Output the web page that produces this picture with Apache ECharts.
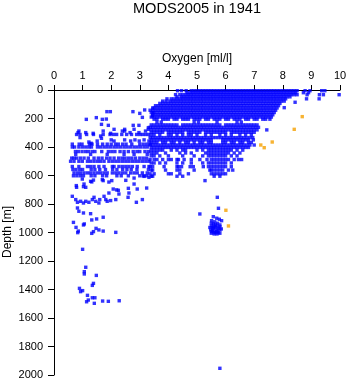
<!DOCTYPE html>
<html>
<head>
<meta charset="utf-8">
<script src="https://cdn.jsdelivr.net/npm/echarts@6/dist/echarts.min.js"></script>
<style>
html,body{margin:0;padding:0;background:#fff}
#chart{width:348px;height:384px}
</style>
</head>
<body>
<div id="chart"></div>
<script>
// Oxygen profiles, 1941: each row is [depth (m), [oxygen values (ml/l)]]
const surfaceRows = [
  [5,[4.32,4.46,4.62,4.8,4.9,5,5.1,5.2,5.3,5.4,5.5,5.6,5.7,5.8,5.9,6,6.1,6.2,6.3,6.4,6.5,6.6,6.7,6.8,6.9,7,7.1,7.2,7.3,7.4,7.5,7.6,7.7,7.8,7.9,8,8.1,8.2,8.3,8.4,8.5,8.78,8.95,9.36,9.47]],
  [19,[4.65,4.75,4.85,4.95,5.05,5.15,5.25,5.35,5.45,5.55,5.65,5.75,5.85,5.95,6.05,6.15,6.25,6.35,6.45,6.55,6.65,6.75,6.85,6.95,7.05,7.15,7.25,7.35,7.45,7.55,7.65,7.75,7.85,7.95,8.05,8.15,8.25,8.35,8.45,8.72,8.9]],
  [33,[4.25,4.4,4.5,4.6,4.7,4.8,4.9,5,5.1,5.2,5.3,5.4,5.5,5.6,5.7,5.8,5.9,6,6.1,6.2,6.3,6.4,6.5,6.6,6.7,6.8,6.9,7,7.1,7.2,7.3,7.4,7.5,7.6,7.7,7.8,7.9,8,8.1,8.2,8.3,8.4,8.5,8.85,9.28,9.42,9.97]],
  [48,[4.3,4.45,4.55,4.65,4.75,4.85,4.95,5.05,5.15,5.25,5.35,5.45,5.55,5.65,5.75,5.85,5.95,6.05,6.15,6.25,6.35,6.45,6.55,6.65,6.75,6.85,6.95,7.05,7.15,7.25,7.35,7.45,7.55,7.65,7.75,7.85,7.95,8.05,8.15,8.25]],
  [62,[3.95,4.1,4.2,4.3,4.4,4.5,4.6,4.7,4.8,4.9,5,5.1,5.2,5.3,5.4,5.5,5.6,5.7,5.8,5.9,6,6.1,6.2,6.3,6.4,6.5,6.6,6.7,6.8,6.9,7,7.1,7.2,7.3,7.4,7.5,7.6,7.7,7.8,7.9,8,8.1,8.83,9.27]],
  [78,[3.8,3.92,4.05,4.15,4.25,4.35,4.45,4.55,4.65,4.75,4.85,4.95,5.05,5.15,5.25,5.35,5.45,5.55,5.65,5.75,5.85,5.95,6.05,6.15,6.25,6.35,6.45,6.55,6.65,6.75,6.85,6.95,7.05,7.15,7.25,7.35,7.45,7.55,7.65,7.75,7.85,7.95,8.05]],
  [86,[8.43]],
  [94,[3.7,3.8,3.9,4,4.1,4.2,4.3,4.4,4.5,4.6,4.7,4.8,4.9,5,5.1,5.2,5.3,5.4,5.5,5.6,5.7,5.8,5.9,6,6.1,6.2,6.3,6.4,6.5,6.6,6.7,6.8,6.9,7,7.1,7.2,7.3,7.4,7.5,7.6,7.7,7.8,7.9]],
  [110,[3.55,3.65,3.75,3.85,3.95,4.05,4.15,4.25,4.35,4.45,4.55,4.65,4.75,4.85,4.95,5.05,5.15,5.25,5.35,5.45,5.55,5.65,5.75,5.85,5.95,6.05,6.15,6.25,6.35,6.45,6.55,6.65,6.75,6.85,6.95,7.05,7.15,7.25,7.35,7.45,7.55,7.65,7.75,7.85]],
  [124,[8.05]],
  [126,[3.45,3.5,3.6,3.7,3.8,3.9,4,4.1,4.2,4.3,4.4,4.5,4.6,4.7,4.8,4.9,5,5.1,5.2,5.3,5.4,5.5,5.6,5.7,5.8,5.9,6,6.1,6.2,6.3,6.4,6.5,6.6,6.7,6.8,6.9,7,7.1,7.2,7.3,7.4,7.5,7.6,7.7,7.8]],
  [142,[3.36,3.45,3.55,3.65,3.75,3.85,3.95,4.05,4.15,4.25,4.35,4.45,4.55,4.65,4.75,4.85,4.95,5.05,5.15,5.25,5.35,5.45,5.55,5.65,5.75,5.85,5.95,6.05,6.15,6.25,6.35,6.45,6.55,6.65,6.75,6.85,6.95,7.05,7.15,7.25,7.35,7.45,7.55,7.65,7.75]],
  [158,[3.4,3.5,3.6,3.7,3.8,3.9,4,4.1,4.2,4.3,4.4,4.5,4.6,4.7,4.8,4.9,5,5.1,5.2,5.3,5.4,5.5,5.6,5.7,5.8,5.9,6,6.1,6.2,6.3,6.4,6.5,6.6,6.7,6.8,6.9,7,7.1,7.2,7.3,7.4,7.5,7.6,7.7]],
  [174,[3.45,3.55,3.65,3.75,3.85,3.95,4.05,4.15,4.25,4.35,4.45,4.55,4.65,4.75,4.85,4.95,5.05,5.15,5.25,5.35,5.45,5.55,5.65,5.75,5.85,5.95,6.05,6.15,6.25,6.35,6.45,6.55,6.65,6.75,6.85,6.95,7.05,7.15,7.25,7.35,7.45,7.55,7.65]],
  [190,[3.4,3.5,3.6,3.7,3.8,3.9,4,4.1,4.2,4.3,4.4,4.5,4.6,4.7,4.8,4.9,5,5.1,5.2,5.3,5.4,5.5,5.6,5.7,5.8,5.9,6,6.1,6.2,6.3,6.4,6.5,6.6,6.7,6.8,6.9,7,7.1,7.2,7.3,7.4,7.5,7.6]],
  [205,[3.5,3.6,3.8,3.9,4,4.2,4.3,4.5,4.6,4.7,4.9,5,5.1,5.3,5.4,5.6,5.7,5.8,6,6.1,6.3,6.4,6.5,6.7,6.8,7,7.1,7.3,7.4,7.55]]
];

const intermediateRows = [
  [225,[3.6,3.75,4.9,5.05,5.7,6.4,6.55]],
  [245,[3.4,3.5,3.6,3.7,3.8,3.9,4,4.1,4.2,4.3,4.5,4.6,4.7,4.8,4.9,5,5.1,5.2,5.3,5.4,5.5,5.6,5.7,5.8,6,6.1,6.2,6.3,6.4,6.5,6.6,6.7,6.8,6.9,7,7.1]],
  [262,[3.36,3.45,3.55,3.65,3.75,3.85,3.95,4.05,4.15,4.25,4.35,4.45,4.55,4.65,4.75,4.85,4.95,5.05,5.15,5.25,5.35,5.45,5.55,5.65,5.75,5.85,5.95,6.05,6.15,6.25,6.35,6.45,6.55,6.65,6.75,6.85,6.95,7.05,7.15]],
  [280,[3.4,3.5,3.6,3.7,3.8,3.9,4,4.1,4.2,4.3,4.4,4.5,4.6,4.7,4.8,4.9,5,5.1,5.2,5.3,5.4,5.5,5.6,5.7,5.8,5.9,6,6.1,6.2,6.3,6.4,6.5,6.6,6.7,6.8,6.9,7,7.1,7.44]],
  [297,[3.4,3.5,3.6,3.7,3.8,4,4.1,4.2,4.3,4.4,4.5,4.7,4.8,4.9,5,5.1,5.3,5.4,5.5,5.6,5.7,5.8,5.9,6,6.2,6.3,6.4,6.5,6.6,6.7,6.8,6.9,7]],
  [315,[3.4,3.5,3.7,4,4.1,4.3,4.5,4.7,4.8,5,5.3,5.5,5.8,6,6.2,6.5,6.7,6.9]],
  [334,[3.36,3.45,3.55,3.65,3.75,3.85,3.95,4.05,4.15,4.25,4.35,4.45,4.55,4.65,4.75,4.85,4.95,5.05,5.15,5.25,5.35,5.45,5.55,5.65,5.75,5.85,5.95,6.05,6.15,6.25,6.35,6.45,6.55,6.65,6.75,6.85,6.95]],
  [350,[3.4,3.5,3.6,3.7,3.8,3.9,4,4.1,4.2,4.3,4.4,4.5,4.6,4.7,4.8,4.9,5,5.1,5.2,5.3,5.4,5.5,5.9,6,6.1,6.2,6.3,6.4,6.5,6.6,6.7,6.8,6.97]],
  [368,[3.4,3.5,3.6,3.8,3.9,4.1,4.2,4.4,4.6,4.7,4.9,5.1,5.2,5.4,5.5,5.9,6,6.2,6.3,6.5,6.6,6.8,6.9]],
  [386,[3.36,3.45,3.55,3.65,3.75,3.85,3.95,4.05,4.15,4.25,4.35,4.45,4.55,4.65,4.75,4.85,4.95,5.05,5.15,5.25,5.35,5.45,5.55,5.65,5.75,5.85,5.95,6.05,6.15,6.25,6.35,6.45,6.55,6.65,6.75,6.85,7]],
  [403,[3.4,3.5,3.6,3.7,3.8,3.9,4,4.1,4.2,4.3,4.4,4.5,4.6,4.7,4.8,4.9,5,5.1,5.2,5.3,5.4,5.5,5.6,5.7,5.8,5.9,6,6.1,6.2,6.3,6.4,6.5,6.6,6.7,6.8]],
  [422,[3.4,3.5,3.6,3.7,3.8,4.1,4.3,4.5,4.6,5,5.2,5.4,5.5,5.6,5.7,5.8,5.9,6,6.1,6.2,6.4,6.6]],
  [442,[3.4,3.5,3.6,3.9,4.4,4.6,4.8,5.3,5.4,5.5,5.6,5.7,5.8,5.9,6,6.1,6.3,6.5]],
  [462,[3.4,3.5,3.7,4,4.5,4.9,5.2,5.4,5.5,5.6,5.7,5.8,5.9,6,6.2,6.4]],
  [488,[3.36,3.5,3.6,3.8,4,4.1,4.3,4.35,4.55,4.8,5.1,5.35,5.5,5.6,5.7,5.8,5.9,6,6.1,6.3,6.45,6.56]],
  [512,[3.4,3.5,3.7,3.9,4.3,4.5,4.8,5.2,5.4,5.5,5.6,5.7,5.8,5.9,6,6.2]],
  [538,[3.36,3.45,3.85,4.3,4.35,4.46,4.76,4.87,5.22,5.4,5.5,5.6,5.7,5.8,5.9,6,6.2]],
  [562,[3.4,3.45,3.9,4.3,4.4,4.9,5.45,5.5,5.6,5.7,5.8,5.9,6.1,6.25]],
  [588,[3.36,3.5,4,4.1,4.4,4.7,5.5,5.6,5.7,5.8,5.9,6]],
  [605,[3.4,3.45,4.3,4.5,5.6,5.8]]
];

// Low-oxygen casts on the left side of the profile
const lowOxygenRows = [
  [140,[3.17]],[152,[1.85,1.97,2.76]],[159,[3.46]],[164,[3]],[182,[3.44]],[192,[3.09]],[194,[1.48]],
  [204,[1.83]],[206,[1.13,1.69]],[241,[1.66]],[248,[1.9,2.77,2.97]],[264,[3.3]],
  [276,[2.1,2.47,2.8,3.3]],
  [288,[0.87,1.72,2.39,2.47,3.2]],
  [299,[0.84,1.11,2.66,2.97]],
  [304,[1.37,1.98]],
  [312,[0.79,0.91,1.14,1.38,1.72,1.96,2.08,2.19,2.37,2.54,2.71,2.89,3,3.1,3.2,3.3]],
  [323,[1.63]],[334,[0.91]],[339,[1.66]],
  [350,[2,2.47,2.83,3.15]],
  [358,[1.51,2.1,2.68,2.98,3.32]],
  [365,[1.22]],[374,[1.3]],
  [380,[0.64,0.88,0.98,1.24,1.33,1.52,1.7,1.86,2,2.15,2.25,2.4,2.52,2.72,3,3.12,3.24,3.35]],
  [400,[0.64,0.72,0.87,0.99,1.11,1.22,1.31,1.52,1.63,1.75,1.86,1.98,2.1,2.21,2.33,2.45,2.56,2.68,2.8,2.91,3.03,3.15,3.26]],
  [432,[0.75,0.85,0.98,1.1,1.2,1.33,1.43,1.67,1.9,2.02,2.13,2.31,2.45,2.6,2.77,2.9,3,3.18,3.3]],
  [452,[0.76,1.28,1.86,2.45,2.8,3.26]],
  [478,[0.62,0.7,0.79,0.92,1.05,1.2,1.4,1.55,1.68,1.84,1.96,2.1,2.26,2.38,2.48,2.6,2.72,2.85,3,3.12,3.24]],
  [500,[0.58,0.7,0.87,0.99,1.17,1.28,1.4,1.52,1.63,1.75,1.92,2.04,2.16,2.27,2.39,2.51,2.62,2.74,2.86,2.97,3.09,3.21,3.32]],
  [537,[0.64,0.87,1.17,1.28,1.4,1.57,1.75,2.04,2.1,2.27,2.39,2.51,2.62,2.74,2.91,3.15,3.32]],
  [558,[0.66,0.77,0.9,1,1.3,1.43,1.6,1.8,2.05,2.2,2.4,2.55,2.7,2.9,3.3]],
  [582,[0.7,0.82,0.93,1.05,1.17,1.28,1.4,1.52,1.63,1.75,1.86,2.04,2.16,2.27,2.39,2.51,2.68,2.8,2.91,3.09,3.26]],
  [602,[0.68,0.8,0.92,1.03,1.3,1.43,1.7,1.84,2.2,2.35,2.6,3,3.12,3.24]]
];

// Deep, isolated observations as [oxygen, depth]
const deepPoints = [
  [0.99,625],[1.28,641],[1.69,629],[1.92,646],[2.51,634],[2.8,618],[3.15,606],[3.32,613],[1.32,645],[1.72,636],[2.02,636],[1.38,632],
  [0.79,683],[1.05,660],[1.11,683],[0.78,671],[1.03,678],
  [1.92,723],[2.07,695],[2.25,704],[2.27,730],[2.62,723],[2.8,660],[2.91,695],[3.24,688],[2.19,701],[2.6,690],
  [0.64,746],[0.76,769],[0.82,788],[0.93,781],[1.03,793],[1.11,781],[1.22,788],[1.34,769],[1.4,753],[1.46,781],[1.57,793],[1.6,769],[1.75,746],[1.81,769],[1.86,781],[1.98,776],[2.16,769],[2.59,753],[2.88,788],[3.09,769],
  [0.82,828],[0.87,851],[1.03,863],[1.28,868],[1.72,893],[1.49,905],
  [0.68,929],[0.77,964],[0.85,990],[0.83,1001],[1.03,947],[1.06,940],[1.32,912],[1.32,1006],[1.38,994],[1.47,971],[1.57,982],[1.72,990],[2.16,999],
  [1,1118],[1.11,1244],[1.06,1275],[1.06,1291],[1.48,1301],[1.38,1357],[1.34,1371],[0.89,1392],[0.93,1415],[1,1408],[1.17,1441],[1.14,1486],[1.2,1474],[1.34,1458],[1.43,1458],[1.41,1497],[1.7,1481],[1.9,1483],[2.28,1479],
  [5.28,636],[5.71,753],[5.75,830],[5.1,870],
  [5.57,889],[5.69,900],[5.78,907],[5.86,917],[5.51,917],[5.62,925],[5.5,935],[5.72,935],[5.57,940],[5.65,945],[5.8,947],
  [5.5,955],[5.6,955],[5.7,955],[5.8,960],[5.45,965],[5.55,965],[5.65,965],[5.75,970],[5.57,971],[5.85,975],
  [5.48,982],[5.69,982],[5.8,982],[5.55,985],[5.51,994],[5.6,995],[5.7,992],[5.63,1001],[5.74,1001],[5.5,1005],[5.8,1005],[5.6,1010],[5.7,1010],
  [5.8,1953]
];

// Flagged observations (orange)
const flaggedPoints = [[8.68,187],[8.4,276],[7.63,365],[7.23,386],[7.35,405],[6.01,844],[6.1,954]];

const oxygenTicks = [0,1,2,3,4,5,6,7,8,9,10];
const depthTicks = [0,200,400,600,800,1000,1200,1400,1600,1800,2000];

function rowsToPoints(rows) {
  const pts = [];
  rows.forEach(([depth, values]) => values.forEach(v => pts.push([v, depth])));
  return pts;
}

const bluePoints = rowsToPoints(surfaceRows)
  .concat(rowsToPoints(intermediateRows))
  .concat(rowsToPoints(lowOxygenRows))
  .concat(deepPoints);

const FONT = 'Liberation Sans, Arial, Helvetica, sans-serif';
const chart = echarts.init(document.getElementById('chart'), null, {renderer: 'canvas'});
chart.setOption({
  animation: false,
  backgroundColor: '#fff',
  graphic: [{
    type: 'text', x: 197, y: 1,
    style: {text: 'MODS2005 in 1941', fill: '#000', font: '14.6px ' + FONT, textAlign: 'center', textVerticalAlign: 'top'}
  }, {
    // vertical axis title, rotated along the depth axis
    type: 'text', x: 8, y: 232, rotation: Math.PI / 2,
    style: {text: 'Depth [m]', fill: '#000', font: '12px ' + FONT, textAlign: 'center', textVerticalAlign: 'middle'}
  }],
  grid: {left: 54, top: 90, width: 286, height: 285, containLabel: false, outerBoundsMode: 'none'},
  xAxis: {
    type: 'value', position: 'top',
    min: oxygenTicks[0], max: oxygenTicks[oxygenTicks.length - 1], interval: 1,
    name: 'Oxygen [ml/l]', nameLocation: 'middle', nameGap: 23,
    nameTextStyle: {color: '#000', fontSize: 12, fontFamily: FONT},
    axisLine: {show: true, lineStyle: {color: '#000', width: 1}},
    axisTick: {show: true, length: 5, lineStyle: {color: '#000', width: 1}},
    axisLabel: {color: '#000', fontSize: 11, fontFamily: FONT, margin: 9, formatter: v => String(v)},
    splitLine: {show: false}
  },
  yAxis: {
    type: 'value', inverse: true,
    min: depthTicks[0], max: depthTicks[depthTicks.length - 1], interval: 200,
    axisLine: {show: true, lineStyle: {color: '#000', width: 1}},
    axisTick: {show: true, length: 6, lineStyle: {color: '#000', width: 1}},
    axisLabel: {color: '#000', fontSize: 11, fontFamily: FONT, margin: 11, formatter: v => String(v)},
    splitLine: {show: false}
  },
  series: [
    {type: 'scatter', symbol: 'rect', symbolSize: 3.4, itemStyle: {color: '#0000ff'}, data: bluePoints},
    {type: 'scatter', symbol: 'rect', symbolSize: 3.4, itemStyle: {color: '#f5a000'}, data: flaggedPoints}
  ]
});
</script>
</body>
</html>
